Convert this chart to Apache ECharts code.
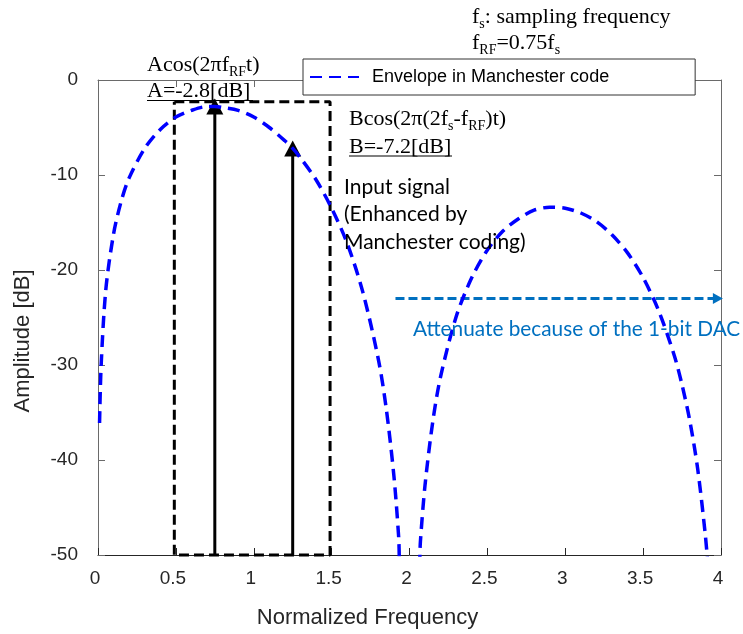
<!DOCTYPE html>
<html>
<head>
<meta charset="utf-8">
<script src="https://cdn.jsdelivr.net/npm/echarts@6/dist/echarts.min.js"></script>
<style>
  html, body { margin: 0; padding: 0; background: #ffffff; }
  #chart { width: 743px; height: 634px; }
</style>
</head>
<body>
<div id="chart"></div>
<script>
// Envelope of the Manchester-coded spectrum: normalized frequency and amplitude [dB]
const envFreq = [0.01, 0.02, 0.05, 0.1, 0.15, 0.2, 0.3, 0.4, 0.5, 0.6, 0.7, 0.75, 0.8, 0.9, 1.0,
  1.1, 1.2, 1.25, 1.3, 1.4, 1.5, 1.6, 1.7, 1.8, 1.85, 1.9, 1.93, 1.95,
  2.05, 2.07, 2.1, 2.15, 2.2, 2.3, 2.4, 2.5, 2.6, 2.7, 2.8, 2.9, 3.0,
  3.1, 3.2, 3.3, 3.4, 3.5, 3.6, 3.7, 3.75, 3.8, 3.85, 3.9, 3.92];
const envAmp = [-36.1, -30.1, -22.1, -16.2, -12.7, -10.3, -7.2, -5.2, -3.9, -3.2, -2.8, -2.8, -2.9, -3.2, -3.9,
  -5.0, -6.4, -7.2, -8.2, -10.5, -13.5, -17.2, -22.3, -29.4, -34.5, -41.7, -48.0, -53.9,
  -54.4, -48.6, -42.6, -35.9, -31.2, -24.9, -20.8, -17.9, -15.9, -14.6, -13.7, -13.4, -13.5,
  -14.0, -14.9, -16.3, -18.2, -20.8, -24.3, -29.0, -32.1, -35.9, -40.9, -48.0, -51.9];

// Input tones: A at f_RF, B at 2fs - f_RF
const signalFreq = [0.75, 1.25];
const signalAmp = [-2.8, -7.2];

// Dashed box around the input band
const boxFreq = [0.49, 1.49];
const boxAmp = [-2.3, -50];

// 1-bit DAC attenuation arrow
const attenFreq = [1.91, 3.98];
const attenAmp = -23;

// Axis ticks
const xTicks = { min: 0, max: 4, step: 0.5 };
const yTicks = { min: -50, max: 0, step: 10 };

const legendName = 'Envelope in Manchester code';

const SERIF = "'Liberation Serif', 'Times New Roman', serif";
const SANS = "'Liberation Sans', Arial, sans-serif";
const CALI = "Lato, 'Open Sans', sans-serif";
const AXIS_TXT = '#262626';

const chart = echarts.init(document.getElementById('chart'), null, { renderer: 'canvas' });

const envData = envFreq.map((f, i) => [f, envAmp[i]]);
const boxData = [
  [boxFreq[0], boxAmp[0]], [boxFreq[1], boxAmp[0]], [boxFreq[1], boxAmp[1]],
  [boxFreq[0], boxAmp[1]], [boxFreq[0], boxAmp[0]]
];

function arrowSeries(data, color, width, type, size, rotate) {
  return {
    type: 'line',
    data: data,
    clip: false,
    silent: true,
    z: 3,
    symbol: (v, p) => (p.dataIndex === data.length - 1 ? 'triangle' : 'none'),
    symbolSize: size,
    symbolRotate: rotate,
    showSymbol: true,
    itemStyle: { color: color },
    lineStyle: { color: color, width: width, type: type }
  };
}

const mainRich = {
  m: { fontFamily: SERIF, fontSize: 22, color: '#000', verticalAlign: 'bottom', padding: [0, 0, 3, 0] },
  s: { fontFamily: SERIF, fontSize: 14, color: '#000', verticalAlign: 'bottom' }
};

function serifText(x, y, text) {
  return {
    type: 'text', x: x, y: y, z: 20, silent: true,
    style: { text: text, rich: mainRich, align: 'left', verticalAlign: 'bottom' }
  };
}

function underline(x1, x2, y) {
  return {
    type: 'line', z: 20, silent: true,
    shape: { x1: x1, y1: y, x2: x2, y2: y },
    style: { stroke: '#000', lineWidth: 1.2 }
  };
}

const xLabelStyle = { margin: 14, color: AXIS_TXT, fontFamily: SANS, fontSize: 19, padding: [0, 6, 0, 0] };

const option = {
  animation: false,
  backgroundColor: '#ffffff',
  grid: { left: 98, right: 22, top: 80, bottom: 79, containLabel: false },
  legend: {
    data: [legendName],
    left: 303, top: 59,
    orient: 'horizontal',
    itemWidth: 49, itemHeight: 14,
    padding: [9, 86, 9, 6],
    backgroundColor: '#ffffff',
    borderColor: '#333333', borderWidth: 1, borderRadius: 0,
    itemStyle: { opacity: 0 },
    textStyle: { fontFamily: SANS, fontSize: 18, color: '#000', padding: [0, 0, 0, 8] },
    selectedMode: false,
    z: 10
  },
  xAxis: [
    {
      type: 'value', position: 'bottom',
      min: xTicks.min, max: xTicks.max, interval: xTicks.step,
      axisLine: { show: true, onZero: false, lineStyle: { color: '#262626', width: 1 } },
      axisTick: { show: true, inside: true, length: 7, lineStyle: { color: '#262626' } },
      axisLabel: xLabelStyle,
      splitLine: { show: false }
    },
    {
      type: 'value', position: 'top',
      min: xTicks.min, max: xTicks.max, interval: xTicks.step,
      axisLine: { show: true, onZero: false, lineStyle: { color: '#6a6a6a', width: 1 } },
      axisTick: { show: true, inside: true, length: 7, lineStyle: { color: '#6a6a6a' } },
      axisLabel: { show: false },
      splitLine: { show: false }
    }
  ],
  yAxis: [
    {
      type: 'value', position: 'left',
      min: yTicks.min, max: yTicks.max, interval: yTicks.step,
      axisLine: { show: true, onZero: false, lineStyle: { color: '#6a6a6a', width: 1 } },
      axisTick: { show: true, inside: true, length: 7, lineStyle: { color: '#6a6a6a' } },
      axisLabel: { margin: 20, color: AXIS_TXT, fontFamily: SANS, fontSize: 19 },
      splitLine: { show: false }
    },
    {
      type: 'value', position: 'right',
      min: yTicks.min, max: yTicks.max, interval: yTicks.step,
      axisLine: { show: true, onZero: false, lineStyle: { color: '#6a6a6a', width: 1 } },
      axisTick: { show: true, inside: true, length: 7, lineStyle: { color: '#6a6a6a' } },
      axisLabel: { show: false },
      splitLine: { show: false }
    }
  ],
  series: [
    {
      name: 'box', type: 'line', data: boxData, clip: false, silent: true, z: 2,
      symbol: 'none',
      lineStyle: { color: '#000', width: 3, type: [10, 5] }
    },
    arrowSeries([[signalFreq[0], -50], [signalFreq[0], signalAmp[0]]], '#000', 3, 'solid', [17, 16], 0),
    arrowSeries([[signalFreq[1], -50], [signalFreq[1], signalAmp[1]]], '#000', 3, 'solid', [17, 16], 0),
    arrowSeries([[attenFreq[0], attenAmp], [attenFreq[1], attenAmp]], '#0070C0', 3, [9, 4], [11, 10], -90),
    {
      name: legendName, type: 'line', data: envData, z: 4,
      smooth: 0.3, symbol: 'none', clip: true, silent: true,
      itemStyle: { color: '#0000ff' },
      lineStyle: { color: '#0000ff', width: 3.5, type: [12, 7] }
    }
  ],
  graphic: [
    serifText(147, 79, '{m|Acos(2πf}{s|RF}{m|t)}'),
    serifText(147, 105, '{m|A=-2.8[dB]}'),
    underline(147, 253, 100.5),
    serifText(349, 133, '{m|Bcos(2π(2f}{s|s}{m|-f}{s|RF}{m|)t)}'),
    serifText(349, 161, '{m|B=-7.2[dB]}'),
    underline(349, 452, 156),
    serifText(472, 31, '{m|f}{s|s}{m|: sampling frequency}'),
    serifText(472, 57, '{m|f}{s|RF}{m|=0.75f}{s|s}'),
    {
      type: 'text', x: 344, y: 173, z: 20, silent: true,
      style: {
        text: 'Input signal\n(Enhanced by\nManchester coding)',
        fontFamily: CALI, fontSize: 21, lineHeight: 27.5, fill: '#000',
        align: 'left', verticalAlign: 'top'
      }
    },
    {
      type: 'text', x: 413, y: 329, z: 20, silent: true,
      style: {
        text: 'Attenuate because of the 1-bit DAC',
        fontFamily: CALI, fontSize: 20.8, fill: '#0070C0',
        align: 'left', verticalAlign: 'middle'
      }
    },
    {
      type: 'text', x: 367.5, y: 618, z: 20, silent: true,
      style: {
        text: 'Normalized Frequency', fontFamily: SANS, fontSize: 22, fill: AXIS_TXT,
        align: 'center', verticalAlign: 'middle'
      }
    },
    {
      type: 'text', x: 23, y: 341, rotation: Math.PI / 2, z: 20, silent: true,
      style: {
        text: 'Amplitude [dB]', fontFamily: SANS, fontSize: 22, fill: AXIS_TXT,
        align: 'center', verticalAlign: 'middle'
      }
    }
  ]
};

chart.setOption(option);
</script>
</body>
</html>
